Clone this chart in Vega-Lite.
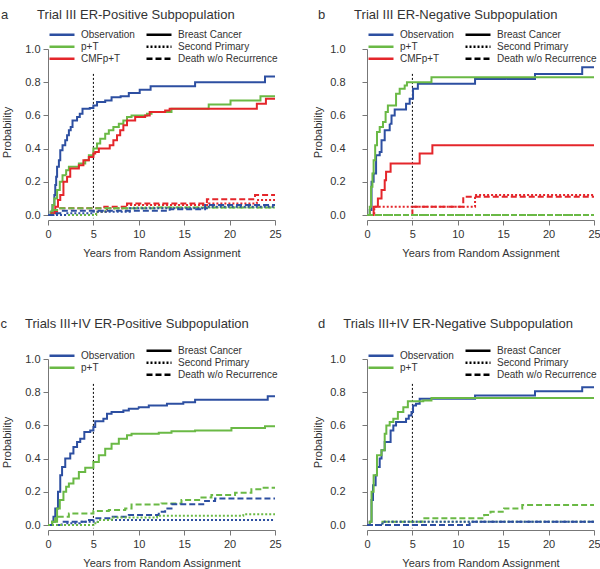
{
"$schema":"https://vega.github.io/schema/vega-lite/v6.json",
"padding":{"left":0,"top":9,"right":2,"bottom":2},
"config":{"font":"Liberation Sans","view":{"stroke":null},
"axis":{"grid":false,"labelFontSize":11,"labelColor":"#333","titleFontSize":11,"titleFontWeight":"normal","titleColor":"#333","domainColor":"#777","tickColor":"#777","tickSize":5,"labelPadding":3,"labelOverlap":false,"labelFlush":false},
"legend":{"orient":"none","title":null,"symbolType":"stroke","symbolSize":625,"symbolStrokeWidth":2.5,"labelFontSize":10,"labelColor":"#333","rowPadding":0,"labelOffset":5,"clipHeight":11.7},
"title":{"anchor":"start","frame":"group","fontSize":13,"fontWeight":"normal","color":"#333"}},
"datasets":{
"a":[
{"g":"Observation","t":"Breast Cancer","x":0,"y":0},{"g":"Observation","t":"Breast Cancer","x":0.3,"y":0.02},{"g":"Observation","t":"Breast Cancer","x":0.5,"y":0.06},{"g":"Observation","t":"Breast Cancer","x":0.7,"y":0.12},{"g":"Observation","t":"Breast Cancer","x":0.8,"y":0.18},{"g":"Observation","t":"Breast Cancer","x":0.9,"y":0.23},{"g":"Observation","t":"Breast Cancer","x":1.0,"y":0.29},{"g":"Observation","t":"Breast Cancer","x":1.2,"y":0.33},{"g":"Observation","t":"Breast Cancer","x":1.35,"y":0.39},{"g":"Observation","t":"Breast Cancer","x":1.6,"y":0.42},{"g":"Observation","t":"Breast Cancer","x":1.9,"y":0.45},{"g":"Observation","t":"Breast Cancer","x":2.1,"y":0.48},{"g":"Observation","t":"Breast Cancer","x":2.3,"y":0.51},{"g":"Observation","t":"Breast Cancer","x":2.5,"y":0.53},{"g":"Observation","t":"Breast Cancer","x":2.7,"y":0.57},{"g":"Observation","t":"Breast Cancer","x":3.2,"y":0.59},{"g":"Observation","t":"Breast Cancer","x":3.5,"y":0.61},{"g":"Observation","t":"Breast Cancer","x":3.8,"y":0.64},{"g":"Observation","t":"Breast Cancer","x":4.6,"y":0.645},{"g":"Observation","t":"Breast Cancer","x":5.0,"y":0.66},{"g":"Observation","t":"Breast Cancer","x":5.4,"y":0.68},{"g":"Observation","t":"Breast Cancer","x":6.3,"y":0.69},{"g":"Observation","t":"Breast Cancer","x":7.0,"y":0.71},{"g":"Observation","t":"Breast Cancer","x":8.0,"y":0.715},{"g":"Observation","t":"Breast Cancer","x":8.9,"y":0.735},{"g":"Observation","t":"Breast Cancer","x":10.1,"y":0.755},{"g":"Observation","t":"Breast Cancer","x":11.3,"y":0.775},{"g":"Observation","t":"Breast Cancer","x":16.2,"y":0.8},{"g":"Observation","t":"Breast Cancer","x":23.9,"y":0.835},{"g":"Observation","t":"Breast Cancer","x":25,"y":0.835},
{"g":"p+T","t":"Breast Cancer","x":0,"y":0},{"g":"p+T","t":"Breast Cancer","x":0.3,"y":0.02},{"g":"p+T","t":"Breast Cancer","x":0.5,"y":0.06},{"g":"p+T","t":"Breast Cancer","x":0.7,"y":0.1},{"g":"p+T","t":"Breast Cancer","x":1.0,"y":0.15},{"g":"p+T","t":"Breast Cancer","x":1.3,"y":0.2},{"g":"p+T","t":"Breast Cancer","x":1.6,"y":0.24},{"g":"p+T","t":"Breast Cancer","x":2.0,"y":0.27},{"g":"p+T","t":"Breast Cancer","x":2.3,"y":0.29},{"g":"p+T","t":"Breast Cancer","x":3.4,"y":0.31},{"g":"p+T","t":"Breast Cancer","x":4.1,"y":0.33},{"g":"p+T","t":"Breast Cancer","x":4.5,"y":0.36},{"g":"p+T","t":"Breast Cancer","x":5.0,"y":0.4},{"g":"p+T","t":"Breast Cancer","x":5.4,"y":0.43},{"g":"p+T","t":"Breast Cancer","x":5.75,"y":0.46},{"g":"p+T","t":"Breast Cancer","x":6.3,"y":0.49},{"g":"p+T","t":"Breast Cancer","x":6.7,"y":0.51},{"g":"p+T","t":"Breast Cancer","x":7.2,"y":0.53},{"g":"p+T","t":"Breast Cancer","x":7.8,"y":0.55},{"g":"p+T","t":"Breast Cancer","x":8.3,"y":0.57},{"g":"p+T","t":"Breast Cancer","x":8.7,"y":0.59},{"g":"p+T","t":"Breast Cancer","x":9.2,"y":0.6},{"g":"p+T","t":"Breast Cancer","x":10.9,"y":0.61},{"g":"p+T","t":"Breast Cancer","x":11.4,"y":0.62},{"g":"p+T","t":"Breast Cancer","x":13.6,"y":0.64},{"g":"p+T","t":"Breast Cancer","x":17.7,"y":0.665},{"g":"p+T","t":"Breast Cancer","x":20.1,"y":0.69},{"g":"p+T","t":"Breast Cancer","x":23.4,"y":0.715},{"g":"p+T","t":"Breast Cancer","x":25,"y":0.715},
{"g":"CMFp+T","t":"Breast Cancer","x":0,"y":0},{"g":"CMFp+T","t":"Breast Cancer","x":0.4,"y":0.01},{"g":"CMFp+T","t":"Breast Cancer","x":0.8,"y":0.05},{"g":"CMFp+T","t":"Breast Cancer","x":1.1,"y":0.09},{"g":"CMFp+T","t":"Breast Cancer","x":1.35,"y":0.12},{"g":"CMFp+T","t":"Breast Cancer","x":1.7,"y":0.2},{"g":"CMFp+T","t":"Breast Cancer","x":2.1,"y":0.23},{"g":"CMFp+T","t":"Breast Cancer","x":2.45,"y":0.28},{"g":"CMFp+T","t":"Breast Cancer","x":3.4,"y":0.3},{"g":"CMFp+T","t":"Breast Cancer","x":3.9,"y":0.33},{"g":"CMFp+T","t":"Breast Cancer","x":4.5,"y":0.35},{"g":"CMFp+T","t":"Breast Cancer","x":5.0,"y":0.37},{"g":"CMFp+T","t":"Breast Cancer","x":5.2,"y":0.38},{"g":"CMFp+T","t":"Breast Cancer","x":5.6,"y":0.4},{"g":"CMFp+T","t":"Breast Cancer","x":6.8,"y":0.42},{"g":"CMFp+T","t":"Breast Cancer","x":7.2,"y":0.45},{"g":"CMFp+T","t":"Breast Cancer","x":7.6,"y":0.48},{"g":"CMFp+T","t":"Breast Cancer","x":7.95,"y":0.51},{"g":"CMFp+T","t":"Breast Cancer","x":8.3,"y":0.54},{"g":"CMFp+T","t":"Breast Cancer","x":8.7,"y":0.57},{"g":"CMFp+T","t":"Breast Cancer","x":9.6,"y":0.59},{"g":"CMFp+T","t":"Breast Cancer","x":10.7,"y":0.6},{"g":"CMFp+T","t":"Breast Cancer","x":11.2,"y":0.62},{"g":"CMFp+T","t":"Breast Cancer","x":12.9,"y":0.63},{"g":"CMFp+T","t":"Breast Cancer","x":13.4,"y":0.64},{"g":"CMFp+T","t":"Breast Cancer","x":23.0,"y":0.67},{"g":"CMFp+T","t":"Breast Cancer","x":24.0,"y":0.7},{"g":"CMFp+T","t":"Breast Cancer","x":25,"y":0.7},
{"g":"CMFp+T","t":"Death w/o Recurrence","x":0,"y":0},{"g":"CMFp+T","t":"Death w/o Recurrence","x":0.5,"y":0.02},{"g":"CMFp+T","t":"Death w/o Recurrence","x":1.0,"y":0.04},{"g":"CMFp+T","t":"Death w/o Recurrence","x":6.2,"y":0.05},{"g":"CMFp+T","t":"Death w/o Recurrence","x":8.7,"y":0.07},{"g":"CMFp+T","t":"Death w/o Recurrence","x":17.5,"y":0.095},{"g":"CMFp+T","t":"Death w/o Recurrence","x":22.8,"y":0.12},{"g":"CMFp+T","t":"Death w/o Recurrence","x":25,"y":0.12},
{"g":"CMFp+T","t":"Second Primary","x":0,"y":0},{"g":"CMFp+T","t":"Second Primary","x":5.3,"y":0.02},{"g":"CMFp+T","t":"Second Primary","x":6.5,"y":0.04},{"g":"CMFp+T","t":"Second Primary","x":8.7,"y":0.06},{"g":"CMFp+T","t":"Second Primary","x":17.7,"y":0.07},{"g":"CMFp+T","t":"Second Primary","x":23.0,"y":0.09},{"g":"CMFp+T","t":"Second Primary","x":25,"y":0.09},
{"g":"p+T","t":"Death w/o Recurrence","x":0,"y":0},{"g":"p+T","t":"Death w/o Recurrence","x":0.5,"y":0.03},{"g":"p+T","t":"Death w/o Recurrence","x":1.2,"y":0.04},{"g":"p+T","t":"Death w/o Recurrence","x":12.0,"y":0.045},{"g":"p+T","t":"Death w/o Recurrence","x":25,"y":0.045},
{"g":"p+T","t":"Second Primary","x":0,"y":0},{"g":"p+T","t":"Second Primary","x":5.3,"y":0.02},{"g":"p+T","t":"Second Primary","x":6.3,"y":0.04},{"g":"p+T","t":"Second Primary","x":9.5,"y":0.045},{"g":"p+T","t":"Second Primary","x":25,"y":0.045},
{"g":"Observation","t":"Death w/o Recurrence","x":0,"y":0},{"g":"Observation","t":"Death w/o Recurrence","x":0.6,"y":0.01},{"g":"Observation","t":"Death w/o Recurrence","x":1.5,"y":0.025},{"g":"Observation","t":"Death w/o Recurrence","x":13.4,"y":0.035},{"g":"Observation","t":"Death w/o Recurrence","x":17.3,"y":0.06},{"g":"Observation","t":"Death w/o Recurrence","x":25,"y":0.06},
{"g":"Observation","t":"Second Primary","x":0,"y":0},{"g":"Observation","t":"Second Primary","x":2.0,"y":0.01},{"g":"Observation","t":"Second Primary","x":5.0,"y":0.02},{"g":"Observation","t":"Second Primary","x":9.0,"y":0.04},{"g":"Observation","t":"Second Primary","x":17.5,"y":0.05},{"g":"Observation","t":"Second Primary","x":25,"y":0.05}
],
"b":[
{"g":"Observation","t":"Breast Cancer","x":0,"y":0},{"g":"Observation","t":"Breast Cancer","x":0.3,"y":0.03},{"g":"Observation","t":"Breast Cancer","x":0.5,"y":0.2},{"g":"Observation","t":"Breast Cancer","x":0.73,"y":0.25},{"g":"Observation","t":"Breast Cancer","x":1.0,"y":0.36},{"g":"Observation","t":"Breast Cancer","x":1.4,"y":0.38},{"g":"Observation","t":"Breast Cancer","x":1.6,"y":0.45},{"g":"Observation","t":"Breast Cancer","x":1.95,"y":0.51},{"g":"Observation","t":"Breast Cancer","x":2.5,"y":0.55},{"g":"Observation","t":"Breast Cancer","x":2.7,"y":0.6},{"g":"Observation","t":"Breast Cancer","x":3.05,"y":0.635},{"g":"Observation","t":"Breast Cancer","x":4.3,"y":0.67},{"g":"Observation","t":"Breast Cancer","x":4.7,"y":0.7},{"g":"Observation","t":"Breast Cancer","x":5.07,"y":0.76},{"g":"Observation","t":"Breast Cancer","x":5.6,"y":0.79},{"g":"Observation","t":"Breast Cancer","x":11.9,"y":0.82},{"g":"Observation","t":"Breast Cancer","x":18.5,"y":0.85},{"g":"Observation","t":"Breast Cancer","x":23.7,"y":0.89},{"g":"Observation","t":"Breast Cancer","x":25,"y":0.89},
{"g":"p+T","t":"Breast Cancer","x":0,"y":0},{"g":"p+T","t":"Breast Cancer","x":0.3,"y":0.05},{"g":"p+T","t":"Breast Cancer","x":0.45,"y":0.17},{"g":"p+T","t":"Breast Cancer","x":0.6,"y":0.25},{"g":"p+T","t":"Breast Cancer","x":0.73,"y":0.33},{"g":"p+T","t":"Breast Cancer","x":0.9,"y":0.42},{"g":"p+T","t":"Breast Cancer","x":1.1,"y":0.5},{"g":"p+T","t":"Breast Cancer","x":1.4,"y":0.53},{"g":"p+T","t":"Breast Cancer","x":1.76,"y":0.56},{"g":"p+T","t":"Breast Cancer","x":2.05,"y":0.62},{"g":"p+T","t":"Breast Cancer","x":2.3,"y":0.66},{"g":"p+T","t":"Breast Cancer","x":3.2,"y":0.73},{"g":"p+T","t":"Breast Cancer","x":3.6,"y":0.76},{"g":"p+T","t":"Breast Cancer","x":4.15,"y":0.78},{"g":"p+T","t":"Breast Cancer","x":4.4,"y":0.8},{"g":"p+T","t":"Breast Cancer","x":7.1,"y":0.83},{"g":"p+T","t":"Breast Cancer","x":25,"y":0.83},
{"g":"CMFp+T","t":"Breast Cancer","x":0,"y":0},{"g":"CMFp+T","t":"Breast Cancer","x":0.73,"y":0.05},{"g":"CMFp+T","t":"Breast Cancer","x":1.2,"y":0.1},{"g":"CMFp+T","t":"Breast Cancer","x":1.6,"y":0.15},{"g":"CMFp+T","t":"Breast Cancer","x":1.95,"y":0.21},{"g":"CMFp+T","t":"Breast Cancer","x":2.1,"y":0.26},{"g":"CMFp+T","t":"Breast Cancer","x":2.6,"y":0.31},{"g":"CMFp+T","t":"Breast Cancer","x":5.8,"y":0.37},{"g":"CMFp+T","t":"Breast Cancer","x":7.2,"y":0.42},{"g":"CMFp+T","t":"Breast Cancer","x":25,"y":0.42},
{"g":"CMFp+T","t":"Death w/o Recurrence","x":0,"y":0},{"g":"CMFp+T","t":"Death w/o Recurrence","x":5.0,"y":0.05},{"g":"CMFp+T","t":"Death w/o Recurrence","x":10.6,"y":0.11},{"g":"CMFp+T","t":"Death w/o Recurrence","x":25,"y":0.11},
{"g":"CMFp+T","t":"Second Primary","x":0,"y":0},{"g":"CMFp+T","t":"Second Primary","x":0.8,"y":0.05},{"g":"CMFp+T","t":"Second Primary","x":11.9,"y":0.12},{"g":"CMFp+T","t":"Second Primary","x":25,"y":0.12},
{"g":"Observation","t":"Death w/o Recurrence","x":0,"y":0},{"g":"Observation","t":"Death w/o Recurrence","x":25,"y":0},
{"g":"Observation","t":"Second Primary","x":0,"y":0},{"g":"Observation","t":"Second Primary","x":25,"y":0},
{"g":"p+T","t":"Death w/o Recurrence","x":0,"y":0},{"g":"p+T","t":"Death w/o Recurrence","x":25,"y":0},
{"g":"p+T","t":"Second Primary","x":0,"y":0},{"g":"p+T","t":"Second Primary","x":25,"y":0}
],
"c":[
{"g":"Observation","t":"Breast Cancer","x":0,"y":0},{"g":"Observation","t":"Breast Cancer","x":0.44,"y":0.02},{"g":"Observation","t":"Breast Cancer","x":0.6,"y":0.05},{"g":"Observation","t":"Breast Cancer","x":0.8,"y":0.1},{"g":"Observation","t":"Breast Cancer","x":1.1,"y":0.2},{"g":"Observation","t":"Breast Cancer","x":1.35,"y":0.3},{"g":"Observation","t":"Breast Cancer","x":1.55,"y":0.35},{"g":"Observation","t":"Breast Cancer","x":1.9,"y":0.4},{"g":"Observation","t":"Breast Cancer","x":2.45,"y":0.43},{"g":"Observation","t":"Breast Cancer","x":2.8,"y":0.47},{"g":"Observation","t":"Breast Cancer","x":3.2,"y":0.5},{"g":"Observation","t":"Breast Cancer","x":3.55,"y":0.52},{"g":"Observation","t":"Breast Cancer","x":4.0,"y":0.56},{"g":"Observation","t":"Breast Cancer","x":4.65,"y":0.57},{"g":"Observation","t":"Breast Cancer","x":5.0,"y":0.59},{"g":"Observation","t":"Breast Cancer","x":5.2,"y":0.625},{"g":"Observation","t":"Breast Cancer","x":6.1,"y":0.64},{"g":"Observation","t":"Breast Cancer","x":6.5,"y":0.67},{"g":"Observation","t":"Breast Cancer","x":7.0,"y":0.68},{"g":"Observation","t":"Breast Cancer","x":8.3,"y":0.69},{"g":"Observation","t":"Breast Cancer","x":8.9,"y":0.7},{"g":"Observation","t":"Breast Cancer","x":10.0,"y":0.71},{"g":"Observation","t":"Breast Cancer","x":11.1,"y":0.72},{"g":"Observation","t":"Breast Cancer","x":13.1,"y":0.73},{"g":"Observation","t":"Breast Cancer","x":14.9,"y":0.74},{"g":"Observation","t":"Breast Cancer","x":16.2,"y":0.755},{"g":"Observation","t":"Breast Cancer","x":24.2,"y":0.775},{"g":"Observation","t":"Breast Cancer","x":25,"y":0.775},
{"g":"p+T","t":"Breast Cancer","x":0,"y":0},{"g":"p+T","t":"Breast Cancer","x":0.44,"y":0.02},{"g":"p+T","t":"Breast Cancer","x":1.0,"y":0.1},{"g":"p+T","t":"Breast Cancer","x":1.3,"y":0.15},{"g":"p+T","t":"Breast Cancer","x":1.7,"y":0.2},{"g":"p+T","t":"Breast Cancer","x":2.0,"y":0.23},{"g":"p+T","t":"Breast Cancer","x":2.3,"y":0.25},{"g":"p+T","t":"Breast Cancer","x":2.8,"y":0.28},{"g":"p+T","t":"Breast Cancer","x":3.4,"y":0.32},{"g":"p+T","t":"Breast Cancer","x":4.1,"y":0.345},{"g":"p+T","t":"Breast Cancer","x":5.0,"y":0.38},{"g":"p+T","t":"Breast Cancer","x":5.6,"y":0.42},{"g":"p+T","t":"Breast Cancer","x":6.3,"y":0.46},{"g":"p+T","t":"Breast Cancer","x":7.0,"y":0.49},{"g":"p+T","t":"Breast Cancer","x":7.8,"y":0.52},{"g":"p+T","t":"Breast Cancer","x":8.7,"y":0.54},{"g":"p+T","t":"Breast Cancer","x":9.2,"y":0.55},{"g":"p+T","t":"Breast Cancer","x":12.2,"y":0.555},{"g":"p+T","t":"Breast Cancer","x":13.6,"y":0.565},{"g":"p+T","t":"Breast Cancer","x":16.2,"y":0.57},{"g":"p+T","t":"Breast Cancer","x":20.2,"y":0.585},{"g":"p+T","t":"Breast Cancer","x":23.9,"y":0.595},{"g":"p+T","t":"Breast Cancer","x":25,"y":0.595},
{"g":"p+T","t":"Death w/o Recurrence","x":0,"y":0},{"g":"p+T","t":"Death w/o Recurrence","x":0.5,"y":0.02},{"g":"p+T","t":"Death w/o Recurrence","x":0.8,"y":0.05},{"g":"p+T","t":"Death w/o Recurrence","x":2.3,"y":0.07},{"g":"p+T","t":"Death w/o Recurrence","x":5.0,"y":0.085},{"g":"p+T","t":"Death w/o Recurrence","x":6.7,"y":0.09},{"g":"p+T","t":"Death w/o Recurrence","x":8.5,"y":0.1},{"g":"p+T","t":"Death w/o Recurrence","x":9.2,"y":0.123},{"g":"p+T","t":"Death w/o Recurrence","x":12.5,"y":0.13},{"g":"p+T","t":"Death w/o Recurrence","x":14.7,"y":0.15},{"g":"p+T","t":"Death w/o Recurrence","x":16.9,"y":0.165},{"g":"p+T","t":"Death w/o Recurrence","x":18.0,"y":0.18},{"g":"p+T","t":"Death w/o Recurrence","x":20.6,"y":0.195},{"g":"p+T","t":"Death w/o Recurrence","x":22.4,"y":0.215},{"g":"p+T","t":"Death w/o Recurrence","x":23.5,"y":0.225},{"g":"p+T","t":"Death w/o Recurrence","x":25,"y":0.225},
{"g":"Observation","t":"Death w/o Recurrence","x":0,"y":0},{"g":"Observation","t":"Death w/o Recurrence","x":1.5,"y":0.02},{"g":"Observation","t":"Death w/o Recurrence","x":4.3,"y":0.03},{"g":"Observation","t":"Death w/o Recurrence","x":5.0,"y":0.04},{"g":"Observation","t":"Death w/o Recurrence","x":7.0,"y":0.05},{"g":"Observation","t":"Death w/o Recurrence","x":8.9,"y":0.06},{"g":"Observation","t":"Death w/o Recurrence","x":12.2,"y":0.08},{"g":"Observation","t":"Death w/o Recurrence","x":12.9,"y":0.1},{"g":"Observation","t":"Death w/o Recurrence","x":13.6,"y":0.125},{"g":"Observation","t":"Death w/o Recurrence","x":17.3,"y":0.145},{"g":"Observation","t":"Death w/o Recurrence","x":18.4,"y":0.16},{"g":"Observation","t":"Death w/o Recurrence","x":25,"y":0.16},
{"g":"Observation","t":"Second Primary","x":0,"y":0},{"g":"Observation","t":"Second Primary","x":2.0,"y":0.01},{"g":"Observation","t":"Second Primary","x":3.5,"y":0.02},{"g":"Observation","t":"Second Primary","x":5.5,"y":0.03},{"g":"Observation","t":"Second Primary","x":25,"y":0.03},
{"g":"p+T","t":"Second Primary","x":0,"y":0},{"g":"p+T","t":"Second Primary","x":5.0,"y":0.01},{"g":"p+T","t":"Second Primary","x":5.5,"y":0.03},{"g":"p+T","t":"Second Primary","x":7.0,"y":0.045},{"g":"p+T","t":"Second Primary","x":12.0,"y":0.055},{"g":"p+T","t":"Second Primary","x":21.5,"y":0.065},{"g":"p+T","t":"Second Primary","x":25,"y":0.065}
],
"d":[
{"g":"Observation","t":"Breast Cancer","x":0,"y":0},{"g":"Observation","t":"Breast Cancer","x":0.3,"y":0.02},{"g":"Observation","t":"Breast Cancer","x":0.5,"y":0.15},{"g":"Observation","t":"Breast Cancer","x":0.66,"y":0.24},{"g":"Observation","t":"Breast Cancer","x":0.95,"y":0.3},{"g":"Observation","t":"Breast Cancer","x":1.1,"y":0.35},{"g":"Observation","t":"Breast Cancer","x":1.4,"y":0.4},{"g":"Observation","t":"Breast Cancer","x":1.6,"y":0.45},{"g":"Observation","t":"Breast Cancer","x":1.95,"y":0.5},{"g":"Observation","t":"Breast Cancer","x":2.6,"y":0.57},{"g":"Observation","t":"Breast Cancer","x":2.9,"y":0.6},{"g":"Observation","t":"Breast Cancer","x":3.2,"y":0.62},{"g":"Observation","t":"Breast Cancer","x":4.3,"y":0.64},{"g":"Observation","t":"Breast Cancer","x":4.6,"y":0.66},{"g":"Observation","t":"Breast Cancer","x":4.9,"y":0.68},{"g":"Observation","t":"Breast Cancer","x":5.07,"y":0.72},{"g":"Observation","t":"Breast Cancer","x":5.4,"y":0.73},{"g":"Observation","t":"Breast Cancer","x":5.8,"y":0.76},{"g":"Observation","t":"Breast Cancer","x":11.9,"y":0.78},{"g":"Observation","t":"Breast Cancer","x":18.5,"y":0.805},{"g":"Observation","t":"Breast Cancer","x":23.7,"y":0.83},{"g":"Observation","t":"Breast Cancer","x":25,"y":0.83},
{"g":"p+T","t":"Breast Cancer","x":0,"y":0},{"g":"p+T","t":"Breast Cancer","x":0.3,"y":0.02},{"g":"p+T","t":"Breast Cancer","x":0.5,"y":0.2},{"g":"p+T","t":"Breast Cancer","x":0.73,"y":0.3},{"g":"p+T","t":"Breast Cancer","x":1.1,"y":0.42},{"g":"p+T","t":"Breast Cancer","x":1.6,"y":0.45},{"g":"p+T","t":"Breast Cancer","x":1.95,"y":0.55},{"g":"p+T","t":"Breast Cancer","x":2.13,"y":0.6},{"g":"p+T","t":"Breast Cancer","x":2.5,"y":0.62},{"g":"p+T","t":"Breast Cancer","x":2.9,"y":0.64},{"g":"p+T","t":"Breast Cancer","x":3.4,"y":0.68},{"g":"p+T","t":"Breast Cancer","x":4.0,"y":0.71},{"g":"p+T","t":"Breast Cancer","x":4.5,"y":0.745},{"g":"p+T","t":"Breast Cancer","x":6.2,"y":0.75},{"g":"p+T","t":"Breast Cancer","x":7.1,"y":0.765},{"g":"p+T","t":"Breast Cancer","x":25,"y":0.765},
{"g":"p+T","t":"Death w/o Recurrence","x":0,"y":0},{"g":"p+T","t":"Death w/o Recurrence","x":1.7,"y":0.02},{"g":"p+T","t":"Death w/o Recurrence","x":6.1,"y":0.04},{"g":"p+T","t":"Death w/o Recurrence","x":12.9,"y":0.06},{"g":"p+T","t":"Death w/o Recurrence","x":13.6,"y":0.08},{"g":"p+T","t":"Death w/o Recurrence","x":15.1,"y":0.1},{"g":"p+T","t":"Death w/o Recurrence","x":17.1,"y":0.12},{"g":"p+T","t":"Death w/o Recurrence","x":25,"y":0.12},
{"g":"p+T","t":"Second Primary","x":0,"y":0},{"g":"p+T","t":"Second Primary","x":1.7,"y":0.02},{"g":"p+T","t":"Second Primary","x":25,"y":0.02},
{"g":"Observation","t":"Death w/o Recurrence","x":0,"y":0},{"g":"Observation","t":"Death w/o Recurrence","x":11.3,"y":0.02},{"g":"Observation","t":"Death w/o Recurrence","x":25,"y":0.02},
{"g":"Observation","t":"Second Primary","x":0,"y":0},{"g":"Observation","t":"Second Primary","x":1.7,"y":0.02},{"g":"Observation","t":"Second Primary","x":25,"y":0.02}
],
"ref":[{"x":5,"y":0.85,"y2":-0.02}]
},
"resolve":{"scale":{"x":"independent","y":"independent","color":"independent","strokeDash":"independent"},"legend":{"color":"independent","strokeDash":"independent"}},
"spacing":60,
"vconcat":[
{"hconcat":[
{"width":227,"height":166,"title":{"text":"a\u00a0\u00a0\u00a0\u00a0\u00a0\u00a0\u00a0\u00a0Trial III ER-Positive Subpopulation","dx":-47,"offset":7},
"encoding":{
"x":{"field":"x","type":"quantitative","scale":{"domain":[0,25],"nice":false},"axis":{"values":[0,5,10,15,20,25],"title":"Years from Random Assignment","offset":5,"titlePadding":8}},
"y":{"field":"y","type":"quantitative","scale":{"domain":[0,1],"nice":false},"axis":{"values":[0,0.2,0.4,0.6,0.8,1],"format":".1f","title":"Probability","labelPadding":3,"titlePadding":12,"labelOverlap":false}}},
"layer":[
{"data":{"name":"ref"},"mark":{"type":"rule","color":"#000","strokeWidth":1,"strokeDash":[2,2]},"encoding":{"y2":{"field":"y2"}}},
{"data":{"name":"a"},"mark":{"type":"line","interpolate":"step-after","strokeWidth":2},
"encoding":{
"color":{"field":"g","type":"nominal","scale":{"domain":["Observation","p+T","CMFp+T"],"range":["#2d4fa1","#6ab945","#e4262b"]},"legend":{"legendX":0,"legendY":-20,"symbolDash":[1,0]}},
"strokeDash":{"field":"t","type":"nominal","scale":{"domain":["Breast Cancer","Second Primary","Death w/o Recurrence"],"range":[[1,0],[2,2],[6,3]]},"legend":{"legendX":97,"legendY":-20,"symbolStrokeColor":"#000"}}}}
]},
{"width":227,"height":166,"title":{"text":"b\u00a0\u00a0\u00a0\u00a0\u00a0\u00a0\u00a0\u00a0Trial III ER-Negative Subpopulation","dx":-49,"offset":7},
"encoding":{
"x":{"field":"x","type":"quantitative","scale":{"domain":[0,25],"nice":false},"axis":{"values":[0,5,10,15,20,25],"title":"Years from Random Assignment","offset":5,"titlePadding":8}},
"y":{"field":"y","type":"quantitative","scale":{"domain":[0,1],"nice":false},"axis":{"values":[0,0.2,0.4,0.6,0.8,1],"format":".1f","title":"Probability","labelPadding":17,"titlePadding":6.5,"labelOverlap":false}}},
"layer":[
{"data":{"name":"ref"},"mark":{"type":"rule","color":"#000","strokeWidth":1,"strokeDash":[2,2]},"encoding":{"y2":{"field":"y2"}}},
{"data":{"name":"b"},"mark":{"type":"line","interpolate":"step-after","strokeWidth":2},
"encoding":{
"color":{"field":"g","type":"nominal","scale":{"domain":["Observation","p+T","CMFp+T"],"range":["#2d4fa1","#6ab945","#e4262b"]},"legend":{"legendX":0,"legendY":-20,"symbolDash":[1,0]}},
"strokeDash":{"field":"t","type":"nominal","scale":{"domain":["Breast Cancer","Second Primary","Death w/o Recurrence"],"range":[[1,0],[2,2],[6,3]]},"legend":{"legendX":97,"legendY":-20,"symbolStrokeColor":"#000"}}}}
]}
],"spacing":30,"resolve":{"scale":{"x":"independent","y":"independent","color":"independent","strokeDash":"independent"},"legend":{"color":"independent","strokeDash":"independent"}}},
{"hconcat":[
{"width":227,"height":166,"title":{"text":"c\u00a0\u00a0\u00a0\u00a0\u00a0Trials III+IV ER-Positive Subpopulation","dx":-47.6,"offset":14},
"encoding":{
"x":{"field":"x","type":"quantitative","scale":{"domain":[0,25],"nice":false},"axis":{"values":[0,5,10,15,20,25],"title":"Years from Random Assignment","offset":5,"titlePadding":8}},
"y":{"field":"y","type":"quantitative","scale":{"domain":[0,1],"nice":false},"axis":{"values":[0,0.2,0.4,0.6,0.8,1],"format":".1f","title":"Probability","labelPadding":3,"titlePadding":12,"labelOverlap":false}}},
"layer":[
{"data":{"name":"ref"},"mark":{"type":"rule","color":"#000","strokeWidth":1,"strokeDash":[2,2]},"encoding":{"y2":{"field":"y2"}}},
{"data":{"name":"c"},"mark":{"type":"line","interpolate":"step-after","strokeWidth":2},
"encoding":{
"color":{"field":"g","type":"nominal","scale":{"domain":["Observation","p+T"],"range":["#2d4fa1","#6ab945"]},"legend":{"legendX":0,"legendY":-9,"symbolDash":[1,0]}},
"strokeDash":{"field":"t","type":"nominal","scale":{"domain":["Breast Cancer","Second Primary","Death w/o Recurrence"],"range":[[1,0],[2,2],[6,3]]},"legend":{"legendX":97,"legendY":-14,"symbolStrokeColor":"#000"}}}}
]},
{"width":227,"height":166,"title":{"text":"d\u00a0\u00a0\u00a0\u00a0\u00a0Trials III+IV ER-Negative Subpopulation","dx":-49,"offset":14},
"encoding":{
"x":{"field":"x","type":"quantitative","scale":{"domain":[0,25],"nice":false},"axis":{"values":[0,5,10,15,20,25],"title":"Years from Random Assignment","offset":5,"titlePadding":8}},
"y":{"field":"y","type":"quantitative","scale":{"domain":[0,1],"nice":false},"axis":{"values":[0,0.2,0.4,0.6,0.8,1],"format":".1f","title":"Probability","labelPadding":17,"titlePadding":6.5,"labelOverlap":false}}},
"layer":[
{"data":{"name":"ref"},"mark":{"type":"rule","color":"#000","strokeWidth":1,"strokeDash":[2,2]},"encoding":{"y2":{"field":"y2"}}},
{"data":{"name":"d"},"mark":{"type":"line","interpolate":"step-after","strokeWidth":2},
"encoding":{
"color":{"field":"g","type":"nominal","scale":{"domain":["Observation","p+T"],"range":["#2d4fa1","#6ab945"]},"legend":{"legendX":0,"legendY":-9,"symbolDash":[1,0]}},
"strokeDash":{"field":"t","type":"nominal","scale":{"domain":["Breast Cancer","Second Primary","Death w/o Recurrence"],"range":[[1,0],[2,2],[6,3]]},"legend":{"legendX":97,"legendY":-14,"symbolStrokeColor":"#000"}}}}
]}
],"spacing":30,"resolve":{"scale":{"x":"independent","y":"independent","color":"independent","strokeDash":"independent"},"legend":{"color":"independent","strokeDash":"independent"}}}
]
}
